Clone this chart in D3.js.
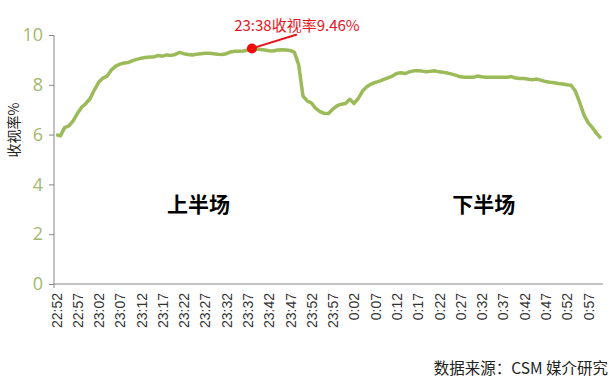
<!DOCTYPE html>
<html>
<head>
<meta charset="UTF-8">
<title>收视率</title>
<script src="https://cdn.jsdelivr.net/npm/d3@7"></script>
<style>
  body{margin:0;background:#fff;}
  svg{display:block;}
  text{font-family:"Liberation Sans","Noto Sans CJK SC",sans-serif;}
</style>
</head>
<body>
<script>
// 每分钟收视率, 22:52 - 1:00
var ratings = [
  6.0, 5.95, 6.28, 6.35, 6.55, 6.85, 7.1, 7.25, 7.45, 7.8,
  8.1, 8.27, 8.35, 8.6, 8.75, 8.83, 8.88, 8.9, 8.97, 9.02,
  9.07, 9.1, 9.12, 9.12, 9.18, 9.15, 9.2, 9.18, 9.22, 9.3,
  9.25, 9.22, 9.2, 9.23, 9.25, 9.27, 9.27, 9.25, 9.23, 9.22,
  9.25, 9.32, 9.35, 9.35, 9.36, 9.4, 9.46, 9.44, 9.42, 9.4,
  9.37, 9.36, 9.4, 9.41, 9.4, 9.38, 9.3, 8.8, 7.55, 7.35,
  7.27, 7.05, 6.92, 6.85, 6.85, 7.02, 7.15, 7.22, 7.25, 7.42,
  7.25, 7.45, 7.75, 7.92, 8.03, 8.1, 8.15, 8.22, 8.28, 8.35,
  8.45, 8.48, 8.45, 8.52, 8.56, 8.56, 8.55, 8.52, 8.54, 8.56,
  8.52, 8.5, 8.47, 8.43, 8.38, 8.32, 8.3, 8.3, 8.3, 8.35,
  8.32, 8.3, 8.3, 8.3, 8.3, 8.3, 8.3, 8.33, 8.27, 8.25,
  8.25, 8.22, 8.2, 8.23, 8.18, 8.13, 8.1, 8.08, 8.05, 8.03,
  8.0, 7.98, 7.75, 7.3, 6.8, 6.48, 6.28, 6.05, 5.85
];
var startMinute = 22 * 60 + 52;
var yTicks = [0, 2, 4, 6, 8, 10];
var xTickLabels = ["22:52","22:57","23:02","23:07","23:12","23:17","23:22","23:27","23:32","23:37",
  "23:42","23:47","23:52","23:57","0:02","0:07","0:12","0:17","0:22","0:27",
  "0:32","0:37","0:42","0:47","0:52","0:57"];
var peak = {time: "23:38", value: 9.46};
var halves = [{name: "上半场", time: "23:25", y: 3.2}, {name: "下半场", time: "0:32", y: 3.2}];

// 类目：每分钟一个时间
var times = ratings.map(function(d, i){
  var m = (startMinute + i) % (24 * 60);
  var mm = m % 60;
  return Math.floor(m / 60) + ":" + (mm < 10 ? "0" + mm : mm);
});

var w = 609, h = 381;
var mLeft = 54, mRight = 603, mTop = 35, mBottom = 284;
var green = "#9bbb59";

var svg = d3.select("body").append("svg")
  .attr("width", w)
  .attr("height", h);

var x = d3.scalePoint()
  .domain(times)
  .range([mLeft, mRight])
  .padding(0.5);

var y = d3.scaleLinear()
  .domain([0, 10])
  .range([mBottom, mTop]);

// y轴
var yAxis = d3.axisLeft(y).tickValues(yTicks).tickSize(5).tickPadding(6);
var gy = svg.append("g")
  .attr("transform", "translate(" + mLeft + ",0)")
  .call(yAxis);
gy.select(".domain").attr("stroke", "#868686").attr("d", "M0," + mTop + "V" + (mBottom + 4));
gy.selectAll(".tick line").attr("stroke", "#868686");
gy.selectAll(".tick text")
  .attr("fill", "#a3b86c")
  .style("font-size", "18px")
  .style("font-family", "'Open Sans','Liberation Sans',sans-serif");

// x轴
var xAxis = d3.axisBottom(x).tickValues(xTickLabels).tickSize(0);
var gx = svg.append("g")
  .attr("transform", "translate(0," + mBottom + ")")
  .call(xAxis);
gx.select(".domain").attr("stroke", "#868686").attr("d", "M" + mLeft + ",0H" + mRight);
gx.selectAll(".tick text")
  .attr("transform", "rotate(-90)")
  .attr("text-anchor", "end")
  .attr("x", -9)
  .attr("y", 0)
  .attr("dy", "0.35em")
  .attr("fill", "#333")
  .style("font-size", "14px");

// y轴标题
svg.append("text")
  .attr("transform", "translate(14,130) rotate(-90)")
  .attr("text-anchor", "middle")
  .attr("dy", "0.35em")
  .style("font-size", "14px")
  .style("font-family", "'Noto Sans CJK SC',sans-serif")
  .attr("fill", "#222")
  .text("收视率%");

// 折线
var line = d3.line()
  .x(function(d, i){ return x(times[i]); })
  .y(function(d){ return y(d); });

svg.append("path")
  .datum(ratings)
  .attr("fill", "none")
  .attr("stroke", green)
  .attr("stroke-width", 3.5)
  .attr("stroke-linejoin", "round")
  .attr("d", line);

// 峰值标注
var px = x(peak.time), py = y(peak.value);
svg.append("line")
  .attr("x1", px).attr("y1", py)
  .attr("x2", px + 45).attr("y2", py - 14)
  .attr("stroke", "#e8141c")
  .attr("stroke-width", 2);
svg.append("circle")
  .attr("cx", px).attr("cy", py)
  .attr("r", 5)
  .attr("fill", "#f20d0d");
svg.append("text")
  .attr("x", px + 45).attr("y", py - 17)
  .attr("text-anchor", "middle")
  .attr("fill", "#e8141c")
  .style("font-size", "15px")
  .style("font-family", "'Noto Sans CJK SC',sans-serif")
  .text(peak.time + "收视率" + peak.value + "%");

// 上下半场
svg.selectAll(".half")
  .data(halves)
  .enter()
  .append("text")
  .attr("class", "half")
  .attr("x", function(d){ return x(d.time) + 2; })
  .attr("y", function(d){ return y(d.y); })
  .attr("text-anchor", "middle")
  .attr("dy", "0.35em")
  .style("font-size", "21px")
  .style("font-weight", "bold")
  .style("font-family", "'Noto Sans CJK SC',sans-serif")
  .attr("fill", "#000")
  .text(function(d){ return d.name; });

// 数据来源
svg.append("text")
  .attr("x", 608)
  .attr("y", 374)
  .attr("text-anchor", "end")
  .style("font-size", "15.5px")
  .style("font-family", "'Noto Sans CJK SC',sans-serif")
  .attr("fill", "#222")
  .text("数据来源：CSM 媒介研究");
</script>
</body>
</html>
